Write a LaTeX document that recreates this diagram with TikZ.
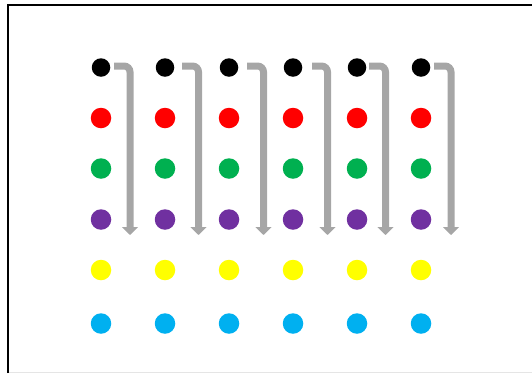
\documentclass[tikz,border=0pt]{standalone}
\usepackage{xcolor}
\usepackage{tikz}
\usetikzlibrary{arrows.meta}

\definecolor{dotred}{HTML}{FF0000}
\definecolor{dotgreen}{HTML}{00B050}
\definecolor{dotpurple}{HTML}{7030A0}
\definecolor{dotyellow}{HTML}{FFFF00}
\definecolor{dotcyan}{HTML}{00B0F0}
\definecolor{arrowgray}{HTML}{A6A6A6}

\begin{document}
\begin{tikzpicture}[x=1pt, y=-1pt,
  dot/.style={circle, inner sep=0pt, minimum size=20.5pt},
  flow/.style={draw=arrowgray, line width=7pt, rounded corners=6pt,
    -{Triangle[width=16pt, length=8pt]}}]
\useasboundingbox (0,0) rectangle (532,373);
% frame
\draw[line width=2.2pt] (8,373) -- (8,5) -- (532,5);
\draw[black!10] (9,372.5) -- (532,372.5);
% dots
\foreach \col/\x in {1/101, 2/165, 3/229, 4/293, 5/357, 6/421} {
  \node[dot, fill=black, minimum size=18.5pt] (d\col-1) at (\x,67.5) {};
  \foreach \row/\y/\c in {2/118/dotred, 3/168.5/dotgreen, 4/219.5/dotpurple,
                          5/270/dotyellow, 6/323.5/dotcyan} {
    \node[dot, fill=\c] (d\col-\row) at (\x,\y) {};
  }
}
% arrows
\foreach \col/\s/\a in {1/13/130, 2/17/198.5, 3/18/263.5, 4/19/327.5, 5/12/385.5, 6/13/451} {
  \coordinate (in\col) at ([xshift=\s pt, yshift=1.5pt]d\col-1.center);
  \coordinate (out\col) at (\a,235);
  \draw[flow] (in\col) -| (out\col);
}
\end{tikzpicture}
\end{document}
